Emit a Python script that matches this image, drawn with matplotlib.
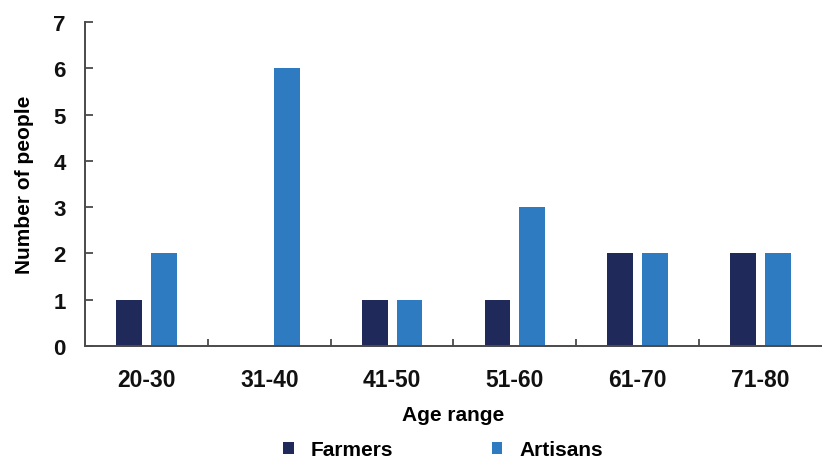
import matplotlib.pyplot as plt
import numpy as np

plt.rcParams['font.family'] = ['Liberation Sans', 'DejaVu Sans']
plt.rcParams['font.weight'] = 'bold'

age_ranges = ['20-30', '31-40', '41-50', '51-60', '61-70', '71-80']
farmers = [1, 0, 1, 1, 2, 2]
artisans = [2, 6, 1, 3, 2, 2]

farmer_color = '#1f2a5b'
artisan_color = '#2e7bc2'
axis_color = '#4a4a4a'

fig = plt.figure(figsize=(8.22, 4.6), dpi=100)
ax = fig.add_axes([0.1034, 0.2457, 0.8966, 0.7043])

x = np.arange(len(age_ranges))
w = 0.21
ax.bar(x - 0.142, farmers, w, color=farmer_color, label='Farmers')
ax.bar(x + 0.142, artisans, w, color=artisan_color, label='Artisans')

ax.set_xlim(-0.5, len(age_ranges) - 0.5)
ax.set_ylim(0, 7)
ax.set_yticks(range(8))

ax.set_xticks(x)
ax.set_xticklabels(age_ranges)
ax.set_xticks(np.arange(0.5, len(age_ranges) - 0.5, 1), minor=True)
ax.tick_params(axis='x', which='major', length=0, pad=16, labelsize=16.5, colors='#111111')
ax.tick_params(axis='x', which='minor', direction='in', length=5, width=1.3, color=axis_color)
ax.tick_params(axis='y', direction='in', length=6, width=1.3, color=axis_color,
               labelsize=16, pad=14, labelcolor='#111111')

for s in ['top', 'right']:
    ax.spines[s].set_visible(False)
for s in ['left', 'bottom']:
    ax.spines[s].set_color(axis_color)
    ax.spines[s].set_linewidth(1.4)

ax.set_xlabel('Age range', fontsize=15, fontweight='bold', labelpad=10)
ax.set_ylabel('Number of people', fontsize=15, fontweight='bold', labelpad=14)

fig.legend(loc='center', bbox_to_anchor=(0.539, 0.02), ncol=2, frameon=False,
           handlelength=0.5, handleheight=0.5, handletextpad=0.8,
           columnspacing=4.75, prop={'weight': 'bold', 'size': 15})

fig.savefig('out.png', dpi=100)
